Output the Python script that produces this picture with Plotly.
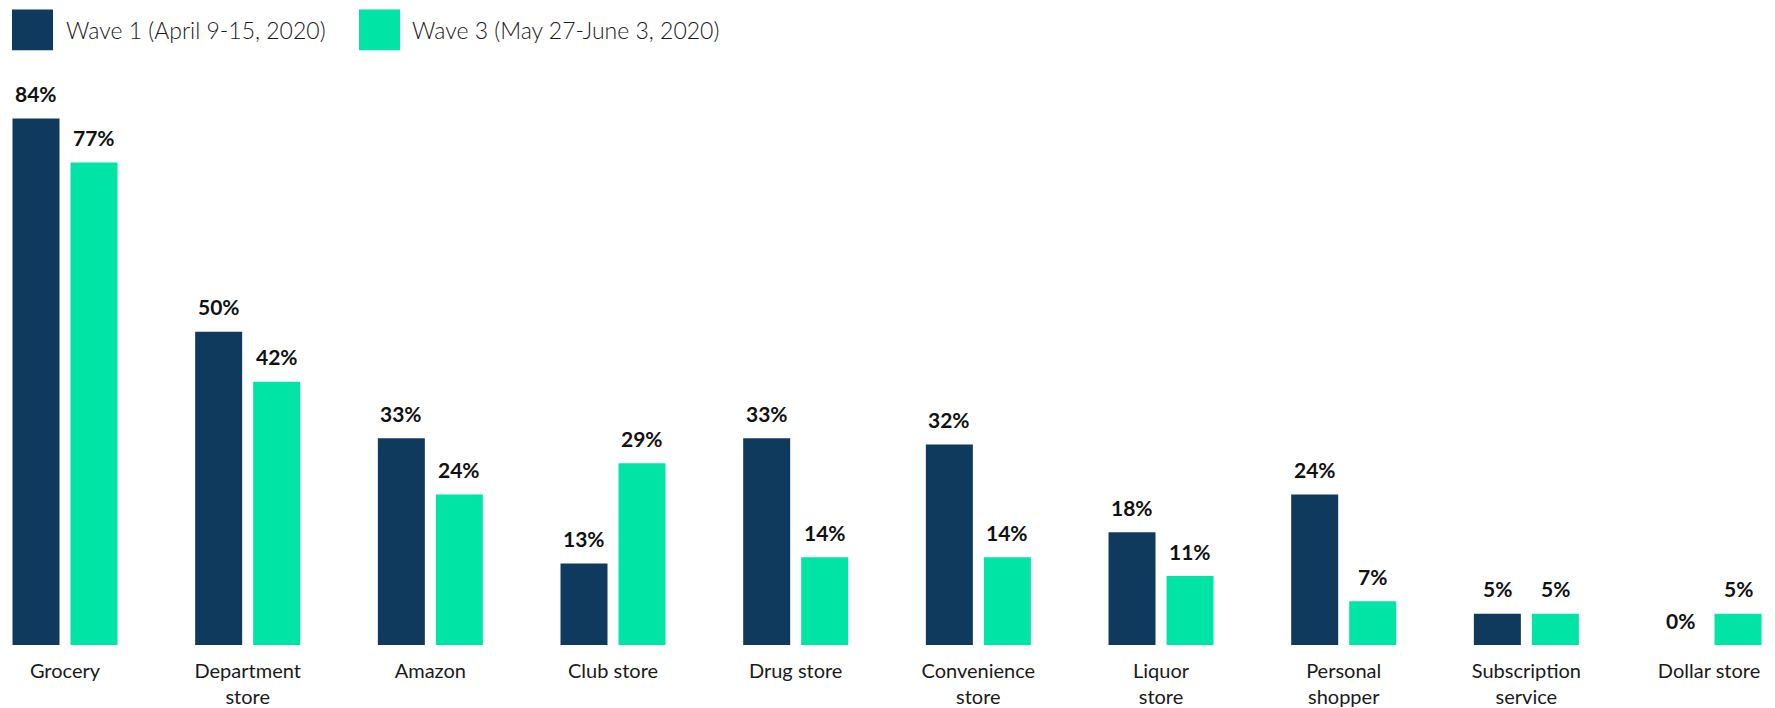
import plotly.graph_objects as go

categories = ["Grocery", "Department<br>store", "Amazon", "Club store", "Drug store",
              "Convenience<br>store", "Liquor<br>store", "Personal<br>shopper",
              "Subscription<br>service", "Dollar store"]
series_names = ["Wave 1 (April 9-15, 2020)", "Wave 3 (May 27-June 3, 2020)"]
wave1 = [84, 50, 33, 13, 33, 32, 18, 24, 5, 0]
wave3 = [77, 42, 24, 29, 14, 14, 11, 7, 5, 5]
colors = ["#0f3a5e", "#00e4a6"]

W, H = 1775, 708
T, B = 81, 60
YMAX = 90
PH = H - T - B
UNIT = 182.67  # px per category
X0 = 65.0      # px of first category centre
bar_w = 47 / UNIT
gap = 11 / UNIT

x_idx = list(range(len(categories)))

fig = go.Figure()
offsets = [-(bar_w + gap / 2), gap / 2]
for name, vals, col, off in zip(series_names, [wave1, wave3], colors, offsets):
    fig.add_trace(go.Bar(x=x_idx, y=vals, name=name, marker_color=col,
                         width=bar_w, offset=off, showlegend=False,
                         marker_line_width=0))

annotations = []
for vals, off in zip([wave1, wave3], offsets):
    centre = off + bar_w / 2
    for i, v in enumerate(vals):
        annotations.append(dict(x=i + centre, y=v, xref="x", yref="y",
                                text=f"{v}%", showarrow=False, yanchor="middle",
                                yshift=25,
                                font=dict(family="Lato", size=21, color="#111111", weight=700)))


def px_x(p):
    return p / W


def px_y(p):
    return (H - B - p) / PH


shapes = []
legend_x = [(12, 64), (359, 410)]
for (sx, tx), name, col in zip(legend_x, series_names, colors):
    shapes.append(dict(type="rect", xref="paper", yref="paper",
                       x0=px_x(sx), x1=px_x(sx + 41), y0=px_y(50), y1=px_y(9),
                       fillcolor=col, line_width=0))
    annotations.append(dict(x=px_x(tx), y=px_y(30), xref="paper", yref="paper",
                            xanchor="left", yanchor="middle", showarrow=False,
                            text=name,
                            font=dict(family="Lato", size=23, color="#1a1a1a", weight=300)))

fig.update_layout(
    width=W, height=H,
    margin=dict(l=0, r=0, t=T, b=B),
    paper_bgcolor="white", plot_bgcolor="white",
    showlegend=False,
    annotations=annotations, shapes=shapes,
    xaxis=dict(range=[-X0 / UNIT, -X0 / UNIT + W / UNIT], tickmode="array",
               tickvals=x_idx, ticktext=categories, showgrid=False, zeroline=False,
               showline=False, ticks="", ticklabelstandoff=12,
               tickfont=dict(family="Lato", size=20, color="#1a1a1a")),
    yaxis=dict(range=[0, YMAX], visible=False, showgrid=False, zeroline=False),
)

fig.write_html("out.html")
